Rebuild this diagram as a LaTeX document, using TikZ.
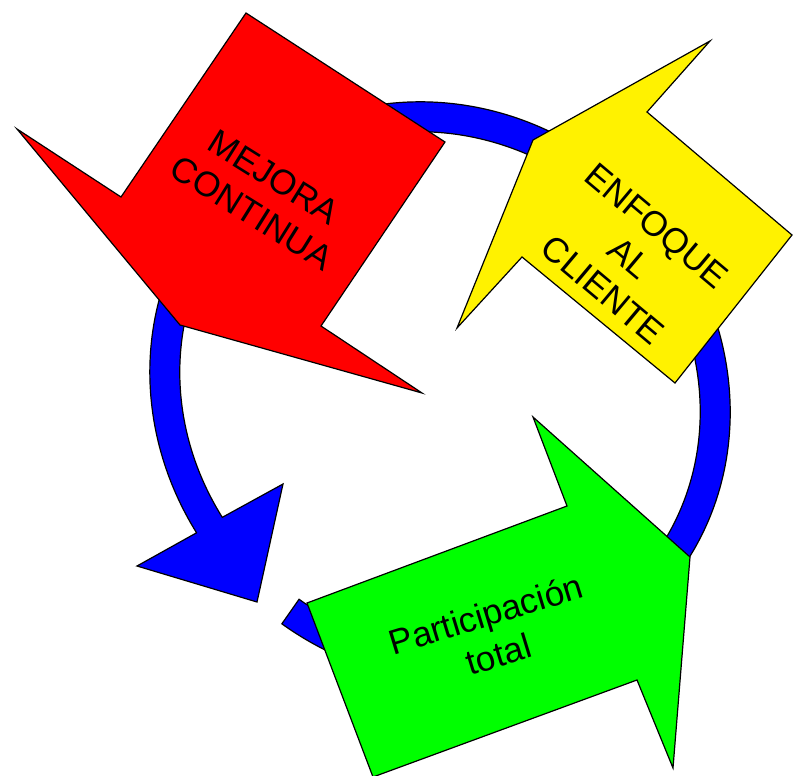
\documentclass[tikz,border=0pt]{standalone}
\usepackage{fontspec}
\setmainfont{Liberation Sans}
\tikzset{
  blk/.style={draw=black,line width=1.2pt,line join=miter},
  lbl/.style={font=\fontsize{35}{42}\selectfont,align=center,inner sep=0pt}
}

\begin{document}
\begin{tikzpicture}[x=1pt,y=-1pt]
\useasboundingbox (0,0) rectangle (793,776);
% blue ring with its head
\coordinate (hl) at (137,566);
\coordinate (ht) at (257,602);
\coordinate (hr) at (283,484);
\begin{scope}[shift={(440,392)},rotate=-45]
  \filldraw[blk,fill=blue] ({300*cos(80)},{280*sin(80)})
    arc[start angle=80,end angle=-256,x radius=300,y radius=280]
    -- (hl) -- (ht) -- (hr)
    -- ({270*cos(-256)},{250*sin(-256)})
    arc[start angle=-256,end angle=80,x radius=270,y radius=250] -- cycle;
\end{scope}
% red arrow
\filldraw[blk,fill=red] (246,13) -- (445,142) -- (321,326) -- (422,393) -- (180,325) -- (17,129) -- (121,197) -- cycle;
\node[lbl,rotate=-32] (mejora) at (263,195) {MEJORA\\CONTINUA};
% yellow arrow
\filldraw[blk,fill=yellow] (710,41) -- (647,112) -- (792,235) -- (675,383) -- (522,257) -- (457,328) -- (533,140) -- cycle;
\node[lbl,rotate=-40] (enfoque) at (630,258) {ENFOQUE\\AL\\CLIENTE};
% green arrow
\filldraw[blk,fill=green] (307,603) -- (567,506) -- (533,417) -- (690,557) -- (673,768) -- (637,680) -- (373,777) -- cycle;
\node[lbl,rotate=17] (partic) at (492,634) {Participación\\total};
\end{tikzpicture}
\end{document}
